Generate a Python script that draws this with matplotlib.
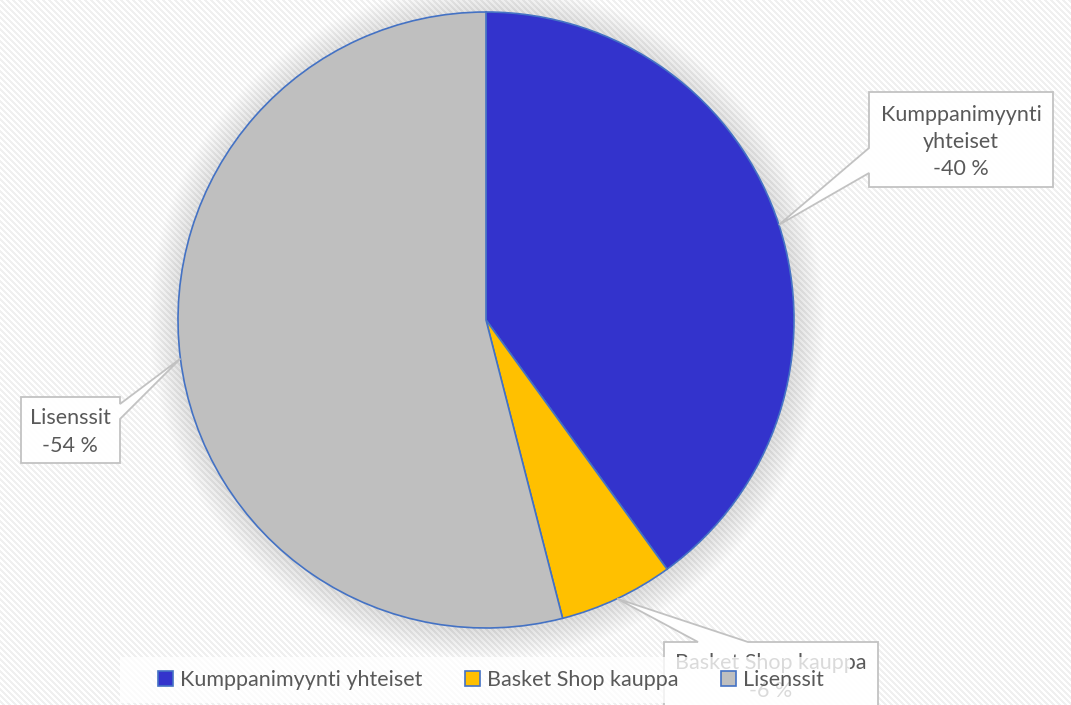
import numpy as np
import matplotlib
matplotlib.use("Agg")
import matplotlib.pyplot as plt
from matplotlib.patches import Polygon, Circle, Rectangle

# ---- data ----
categories = ["Kumppanimyynti yhteiset", "Basket Shop kauppa", "Lisenssit"]
values = [-40, -6, -54]
colors = ["#3333CC", "#FFC000", "#BFBFBF"]

W, H = 1071, 705
plt.rcParams['font.family'] = ['Lato', 'DejaVu Sans']

fig = plt.figure(figsize=(W / 100, H / 100), dpi=100)
ax = fig.add_axes([0, 0, 1, 1])

# striped background
yy, xx = np.mgrid[0:H, 0:W]
stripe = ((xx - yy) % 6) < 3
bg = np.ones((H, W, 3))
bg[stripe] = np.array([0xF0, 0xF0, 0xF0]) / 255.0
ax.imshow(bg, extent=(0, W, 0, H), origin='upper', zorder=0, interpolation='nearest')

cx, cy_top, r = 486, 320, 308
cy = H - cy_top

# soft shadow
for i in range(30):
    ax.add_patch(Circle((cx + 1, cy - 2), r + 30 - i, facecolor='black',
                        edgecolor='none', alpha=0.0045, zorder=1))

sizes = [abs(v) for v in values]
wedges, _ = ax.pie(sizes, colors=colors, startangle=90, counterclock=False,
                   center=(cx, cy), radius=r,
                   wedgeprops=dict(edgecolor='#4472C4', linewidth=1.2))
for w in wedges:
    w.set_zorder(2)

ax.set_xlim(0, W)
ax.set_ylim(0, H)
ax.set_aspect('auto')
ax.axis('off')

# anchor points at wedge mid-angles
total = sum(sizes)
cum = np.cumsum([0] + sizes)
anchors = []
for i in range(len(sizes)):
    mid = (cum[i] + cum[i + 1]) / 2 / total
    th = np.deg2rad(90 - 360 * mid)
    anchors.append((cx + r * np.cos(th), cy + r * np.sin(th)))

def P(x, y):
    return (x, H - y)

edge = '#BFBFBF'
txtc = '#595959'
fs = 15.5
ls = 1.45

# Kumppanimyynti callout
a = anchors[0]
poly = [P(869, 92), P(1053, 92), P(1053, 187), P(869, 187), P(869, 173), a, P(869, 148)]
ax.add_patch(Polygon(poly, closed=True, facecolor='white', edgecolor=edge,
                     linewidth=1.3, alpha=0.95, zorder=5))
ax.text(961, H - 142, f"Kumppanimyynti\nyhteiset\n{values[0]} %", ha='center', va='center',
        fontsize=fs, color=txtc, linespacing=ls, zorder=6)

# Lisenssit callout
a = anchors[2]
poly = [P(21, 397), P(120, 397), P(120, 404), a, P(120, 419), P(120, 463), P(21, 463)]
ax.add_patch(Polygon(poly, closed=True, facecolor='white', edgecolor=edge,
                     linewidth=1.3, alpha=0.95, zorder=5))
ax.text(70, H - 432, f"{categories[2]}\n{values[2]} %", ha='center', va='center',
        fontsize=fs, color=txtc, linespacing=ls, zorder=6)

# Basket Shop callout
a = anchors[1]
poly = [P(664, 642), P(698, 642), a, P(748, 642), P(878, 642), P(878, 730), P(664, 730)]
ax.add_patch(Polygon(poly, closed=True, facecolor='white', edgecolor=edge,
                     linewidth=1.3, alpha=0.95, zorder=5))
ax.text(771, H - 677, f"{categories[1]}\n{values[1]} %", ha='center', va='center',
        fontsize=fs, color=txtc, linespacing=ls, zorder=6)

# legend background band
ax.add_patch(Rectangle(P(120, 703), 730, 46, facecolor='white', edgecolor='none',
                       alpha=0.78, zorder=8))

# legend
leg = ax.legend(wedges, categories, loc='center', ncol=3,
                bbox_to_anchor=(491 / W, (H - 680) / H),
                frameon=False, fontsize=15.5, handlelength=0.7, handleheight=0.7,
                handletextpad=0.3, columnspacing=2.0, labelcolor=txtc)
leg.set_zorder(10)
for h in leg.legend_handles:
    h.set_edgecolor('#4472C4')
    h.set_linewidth(1.2)

fig.savefig("out.png", dpi=100)
